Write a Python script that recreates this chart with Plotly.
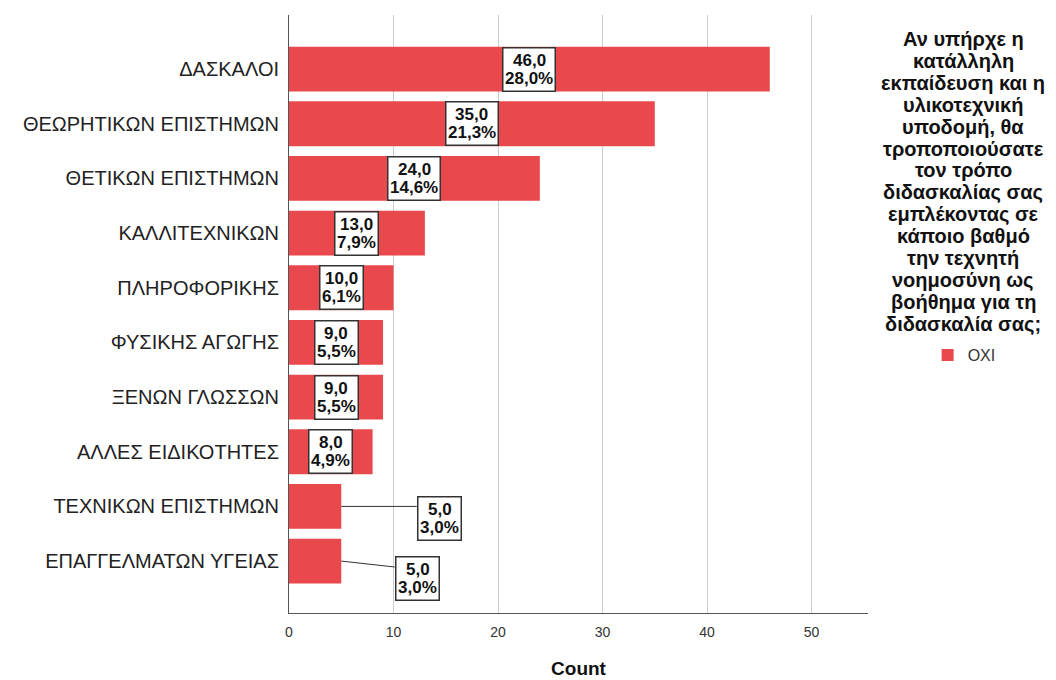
import plotly.graph_objects as go

# Responses "ΟΧΙ" per teacher specialty
categories = [
    "ΔΑΣΚΑΛΟΙ",
    "ΘΕΩΡΗΤΙΚΩΝ ΕΠΙΣΤΗΜΩΝ",
    "ΘΕΤΙΚΩΝ ΕΠΙΣΤΗΜΩΝ",
    "ΚΑΛΛΙΤΕΧΝΙΚΩΝ",
    "ΠΛΗΡΟΦΟΡΙΚΗΣ",
    "ΦΥΣΙΚΗΣ ΑΓΩΓΗΣ",
    "ΞΕΝΩΝ ΓΛΩΣΣΩΝ",
    "ΑΛΛΕΣ ΕΙΔΙΚΟΤΗΤΕΣ",
    "ΤΕΧΝΙΚΩΝ ΕΠΙΣΤΗΜΩΝ",
    "ΕΠΑΓΓΕΛΜΑΤΩΝ ΥΓΕΙΑΣ",
]
counts = [46, 35, 24, 13, 10, 9, 9, 8, 5, 5]
series_name = "ΟΧΙ"
x_ticks = [0, 10, 20, 30, 40, 50]

legend_title_lines = [
    "Αν υπήρχε η",
    "κατάλληλη",
    "εκπαίδευση και η",
    "υλικοτεχνική",
    "υποδομή, θα",
    "τροποποιούσατε",
    "τον τρόπο",
    "διδασκαλίας σας",
    "εμπλέκοντας σε",
    "κάποιο βαθμό",
    "την τεχνητή",
    "νοημοσύνη ως",
    "βοήθημα για τη",
    "διδασκαλία σας;",
]

BAR_COLOR = "#E9494C"
FONT = "Liberation Sans, Arial, sans-serif"

# plot area geometry (px)
M_L, M_R, M_T, M_B = 289, 188, 15, 67
W, H = 1056, 680
PLOT_H = H - M_T - M_B

total = sum(counts)

fig = go.Figure()
fig.add_trace(go.Bar(
    x=counts,
    y=categories,
    orientation="h",
    name=series_name,
    marker=dict(color=BAR_COLOR, line=dict(width=0)),
    width=0.82,
    showlegend=True,
    hoverinfo="skip",
))


def fmt(v, pct=False):
    s = f"{v:.1f}".replace(".", ",")
    return s + "%" if pct else s


def add_value_label(x, y, line1, line2, xshift=0, yshift=0):
    """Bordered white box with two tightly spaced bold lines."""
    n = max(len(line1), len(line2))
    fig.add_annotation(
        x=x, y=y, xref="x", yref="y", text=" ", showarrow=False,
        width=9 * n + 4, height=40,
        bgcolor="white", bordercolor="#333333", borderwidth=1.5, borderpad=1,
        xshift=xshift, yshift=yshift,
    )
    for txt, dy in ((line1, 9), (line2, -9)):
        fig.add_annotation(
            x=x, y=y, xref="x", yref="y", text=f"<b>{txt}</b>", showarrow=False,
            font=dict(family=FONT, size=17, color="#111111"),
            xshift=xshift, yshift=yshift + dy,
        )


# Short bars: label box pushed to the right, joined by a leader line.
# (line dx, line dy, box left offset, box y shift) in pixels
outside = {8: (76, 0, 76, -12), 9: (54, 6, 54, -17)}

for i, (cat, v) in enumerate(zip(categories, counts)):
    l1, l2 = fmt(v), fmt(100 * v / total, True)
    if i in outside:
        ldx, ldy, bx, by = outside[i]
        fig.add_annotation(
            x=v, y=cat, xref="x", yref="y",
            text=" ", font=dict(size=1), borderpad=0,
            showarrow=True, arrowhead=0, arrowwidth=1, arrowcolor="#333333",
            standoff=0, ax=ldx, ay=ldy,
        )
        half_w = (9 * max(len(l1), len(l2)) + 4) / 2 + 2.5
        add_value_label(v, cat, l1, l2, xshift=bx + half_w, yshift=by)
    else:
        add_value_label(v / 2, cat, l1, l2)

# Legend heading: centred lines with tight leading
TITLE_CX = 963
TITLE_Y0 = 39
TITLE_LEAD = 21.9
for k, line in enumerate(legend_title_lines):
    py = TITLE_Y0 + k * TITLE_LEAD
    fig.add_annotation(
        x=(TITLE_CX - M_L) / (W - M_L - M_R), y=(H - M_B - py) / PLOT_H,
        xref="paper", yref="paper", xanchor="center", yanchor="middle",
        text=f"<b>{line}</b>", showarrow=False,
        font=dict(family=FONT, size=20, color="#111111"),
    )

fig.update_layout(
    width=W,
    height=H,
    margin=dict(l=M_L, r=M_R, t=M_T, b=M_B, autoexpand=False),
    paper_bgcolor="white",
    plot_bgcolor="white",
    font=dict(family=FONT, color="#222222"),
    legend=dict(
        x=1.103, y=(H - M_B - 355) / PLOT_H, xanchor="left", yanchor="middle",
        font=dict(family=FONT, size=16, color="#333333"),
        bgcolor="rgba(0,0,0,0)",
    ),
    xaxis=dict(
        range=[0, 55.4],
        tickvals=x_ticks,
        ticktext=[str(t) for t in x_ticks],
        showgrid=True,
        gridcolor="#CCCCCC",
        gridwidth=1,
        zeroline=False,
        showline=True,
        linecolor="#555555",
        linewidth=1,
        ticks="",
        ticklabelstandoff=6,
        automargin=False,
        tickfont=dict(family=FONT, size=14, color="#333333"),
        title=dict(text="<b>Count</b>", font=dict(family=FONT, size=19, color="#111111"), standoff=22),
        fixedrange=True,
    ),
    yaxis=dict(
        type="category",
        categoryorder="array",
        categoryarray=categories,
        range=[9.95, -0.99],
        showgrid=False,
        zeroline=False,
        showline=True,
        linecolor="#555555",
        linewidth=1,
        ticks="",
        ticklabelstandoff=5,
        automargin=False,
        tickfont=dict(family=FONT, size=20, color="#222222"),
        fixedrange=True,
    ),
)

fig.write_html("out.html")
